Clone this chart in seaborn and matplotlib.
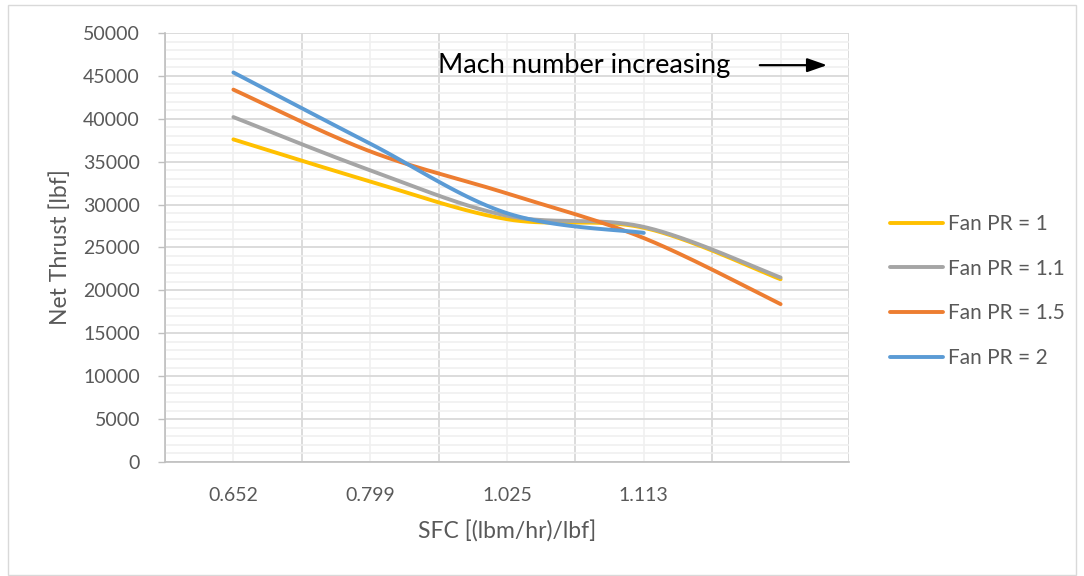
import numpy as np
import pandas as pd
import matplotlib
matplotlib.use("Agg")
import matplotlib.pyplot as plt
from matplotlib.patches import Rectangle
from matplotlib.ticker import MultipleLocator
import seaborn as sns

# SFC categories on the x axis (last category has no label)
sfc_labels = ["0.652", "0.799", "1.025", "1.113", ""]

# Net thrust [lbf] for each fan pressure ratio
fan_pr_1 = [37600, 32700, 28300, 27300, 21300]
fan_pr_1_1 = [40200, 34000, 28700, 27400, 21500]
fan_pr_1_5 = [43400, 36200, 31300, 26100, 18400]
fan_pr_2 = [45400, 37100, 29000, 26700, np.nan]

series_names = ["Fan PR = 1", "Fan PR = 1.1", "Fan PR = 1.5", "Fan PR = 2"]
series_values = [fan_pr_1, fan_pr_1_1, fan_pr_1_5, fan_pr_2]
colors = ["#FFC000", "#A5A5A5", "#ED7D31", "#5B9BD5"]


def smooth_curve(xs, ys, steps=40):
    """Cardinal (Catmull-Rom style) Bezier smoothing through every point."""
    pts = np.column_stack([xs, ys])
    n = len(pts)
    out = []
    for i in range(n - 1):
        p0 = pts[max(i - 1, 0)]
        p1 = pts[i]
        p2 = pts[i + 1]
        p3 = pts[min(i + 2, n - 1)]
        c1 = p1 + (p2 - p0) / 6.0
        c2 = p2 - (p3 - p1) / 6.0
        t = np.linspace(0, 1, steps)[:, None]
        seg = ((1 - t) ** 3) * p1 + 3 * ((1 - t) ** 2) * t * c1 \
            + 3 * (1 - t) * t ** 2 * c2 + t ** 3 * p2
        out.append(seg if i == 0 else seg[1:])
    return np.vstack(out)


frames = []
for name, vals in zip(series_names, series_values):
    vals = np.asarray(vals, dtype=float)
    idx = np.arange(len(vals))
    ok = ~np.isnan(vals)
    curve = smooth_curve(idx[ok].astype(float), vals[ok])
    frames.append(pd.DataFrame({"x": curve[:, 0], "thrust": curve[:, 1],
                                "series": name}))
df = pd.concat(frames, ignore_index=True)

sns.set_theme(style="white")
plt.rcParams["font.family"] = ["Lato", "DejaVu Sans"]

fig = plt.figure(figsize=(10.84, 5.76), dpi=100)
ax = fig.add_axes([165 / 1084, 1 - 462 / 576, (849 - 165) / 1084, (462 - 33) / 576])

sns.lineplot(data=df, x="x", y="thrust", hue="series", hue_order=series_names,
             palette=colors, sort=False, estimator=None, units="series",
             linewidth=2.8, ax=ax, legend=False)

ax.set_xlim(-0.5, len(sfc_labels) - 0.5)
ax.set_ylim(0, 50000)

# x axis: labels at category centres, darker grid at category boundaries
ax.set_xticks(np.arange(len(sfc_labels)))
ax.set_xticklabels(sfc_labels)
ax.set_xticks(np.arange(len(sfc_labels) + 1) - 0.5, minor=True)
ax.xaxis.grid(True, which="major", color="#f0f0f0", linewidth=1.2)
ax.xaxis.grid(True, which="minor", color="#d9d9d9", linewidth=1.3)

ax.yaxis.set_major_locator(MultipleLocator(5000))
ax.yaxis.set_minor_locator(MultipleLocator(1000))
ax.yaxis.grid(True, which="major", color="#d9d9d9", linewidth=1.3)
ax.yaxis.grid(True, which="minor", color="#f0f0f0", linewidth=1.2)
ax.set_axisbelow(True)

ax.tick_params(axis="y", which="major", length=5, width=1, color="#bfbfbf",
               direction="out", left=True, pad=13, labelsize=14, labelcolor="#595959")
ax.tick_params(axis="y", which="minor", length=0)
ax.tick_params(axis="x", which="both", length=0, pad=18, labelsize=14,
               labelcolor="#595959")

for side in ["top", "right"]:
    ax.spines[side].set_visible(False)
for side in ["left", "bottom"]:
    ax.spines[side].set_color("#bfbfbf")
    ax.spines[side].set_linewidth(1.2)

ax.set_xlabel("SFC [(lbm/hr)/lbf]", fontsize=16.5, color="#595959", labelpad=12)
ax.set_ylabel("Net Thrust [lbf]", fontsize=16.5, color="#595959", labelpad=9)

# annotation showing the direction of increasing Mach number
ax.text(0.399, 0.925, "Mach number increasing", transform=ax.transAxes,
        fontsize=19.5, color="black", ha="left", va="center")
ax.annotate("", xy=(0.972, 0.925), xytext=(0.8655, 0.925),
            xycoords="axes fraction", textcoords="axes fraction",
            arrowprops=dict(arrowstyle="-|>,head_length=1.0,head_width=0.35",
                            color="black", lw=1.6))

handles = [plt.Line2D([], [], color=c, lw=2.8) for c in colors]
fig.legend(handles, series_names, loc="center left",
           bbox_to_anchor=(890 / 1084, 1 - 291 / 576), frameon=False,
           fontsize=15, labelcolor="#595959", handlelength=2.55,
           handletextpad=0.25, labelspacing=1.18, borderpad=0, borderaxespad=0)

# outer chart border
fig.patches.append(Rectangle((8 / 1084, 1 / 576), 1 - 16 / 1084, 1 - 6 / 576,
                             transform=fig.transFigure, fill=False,
                             edgecolor="#d9d9d9", linewidth=1.0))

fig.savefig("out.png", dpi=100)
